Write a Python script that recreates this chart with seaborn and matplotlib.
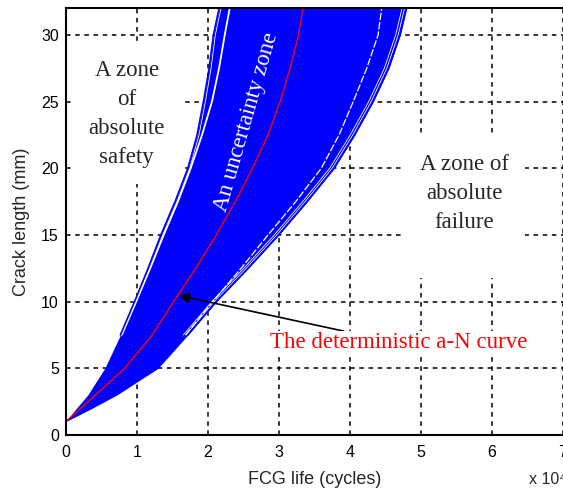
import numpy as np
import pandas as pd
import matplotlib
matplotlib.use("Agg")
import matplotlib.pyplot as plt
import matplotlib.patheffects as pe
import seaborn as sns

# ---- data (FCG life in units of 1e4 cycles, crack length in mm) ----
crack_mm = [1, 2, 3, 5, 7.5, 10, 12.5, 15, 17.5, 20, 22.5, 25, 27.5, 30, 32]
life_fast_main = [0, 0.15, 0.31, 0.55, 0.78, 0.99, 1.19, 1.38, 1.58, 1.76, 1.92, 2.06, 2.16, 2.24, 2.31]
life_fast_outer = [0, 0.15, 0.31, 0.55, 0.77, 0.97, 1.16, 1.34, 1.54, 1.72, 1.85, 1.94, 2.02, 2.08, 2.16]
life_slow_main = [0, 0.37, 0.72, 1.28, 1.69, 2.07, 2.47, 2.85, 3.24, 3.60, 3.85, 4.05, 4.24, 4.40, 4.45]
life_slow_outer = [0, 0.37, 0.72, 1.30, 1.72, 2.12, 2.57, 3.00, 3.40, 3.78, 4.07, 4.33, 4.55, 4.71, 4.80]
life_deterministic = [0, 0.21, 0.42, 0.83, 1.22, 1.52, 1.83, 2.12, 2.39, 2.63, 2.85, 3.02, 3.16, 3.28, 3.34]

x_ticks = [0, 1, 2, 3, 4, 5, 6, 7]
y_ticks = [0, 5, 10, 15, 20, 25, 30]

sns.set_style("white")
plt.rcParams["font.family"] = ["Liberation Sans", "DejaVu Sans"]

fig = plt.figure(figsize=(5.63, 4.91), dpi=100)
ax = fig.add_axes([65.7 / 563, (491 - 435) / 491, 497 / 563, (435 - 8.3) / 491])

df = pd.DataFrame({
    "crack": crack_mm,
    "fast_main": life_fast_main,
    "fast_outer": life_fast_outer,
    "slow_main": life_slow_main,
    "slow_outer": life_slow_outer,
    "det": life_deterministic,
})
upper = df[df["crack"] >= 7.5]

BLUE = "#0000ff"
# whole uncertainty band (all simulated curves)
ax.fill_betweenx(df["crack"], df["fast_outer"], df["slow_outer"], color=BLUE,
                 linewidth=0, zorder=3)

# gaps between the bulk of the curves and the outlying ones
sns.lineplot(data=upper, x="fast_main", y="crack", sort=False, estimator=None,
             ax=ax, color="white", linewidth=1.3, zorder=4)
sns.lineplot(data=upper, x="slow_main", y="crack", sort=False, estimator=None,
             ax=ax, color="white", linewidth=0.9, linestyle=(0, (6, 1.5)), zorder=4)

# outlying curves drawn as thin bundles
sns.lineplot(data=upper, x="fast_outer", y="crack", sort=False, estimator=None,
             ax=ax, color=BLUE, linewidth=1.2, zorder=4,
             path_effects=[pe.Stroke(linewidth=0.6, foreground="white", offset=(1.4, 0)),
                           pe.Normal()])
sns.lineplot(data=upper, x="slow_outer", y="crack", sort=False, estimator=None,
             ax=ax, color=BLUE, linewidth=1.2, zorder=4,
             path_effects=[pe.Stroke(linewidth=0.6, foreground="white", offset=(-1.4, 0)),
                           pe.Stroke(linewidth=0.6, foreground="white", offset=(-3.2, 0)),
                           pe.Normal()])

# deterministic curve
sns.lineplot(data=df, x="det", y="crack", sort=False, estimator=None, ax=ax,
             color="#ff0000", linewidth=1.0, zorder=5)

ax.set_xlim(0, 7)
ax.set_ylim(0, 32)
ax.set_xticks(x_ticks)
ax.set_yticks(y_ticks)
ax.set_xticklabels([str(t) for t in x_ticks])
ax.set_yticklabels([str(t) for t in y_ticks])
ax.tick_params(axis="both", labelsize=11.5, direction="in", length=3, width=1,
               colors="black")
ax.tick_params(axis="x", pad=7)
ax.tick_params(axis="y", pad=5)

ax.grid(True, color="black", linestyle=(0, (3, 3)), linewidth=1.1)
ax.set_axisbelow(True)

for side in ["left", "bottom", "top"]:
    ax.spines[side].set_color("black")
    ax.spines[side].set_linewidth(1.5)
    ax.spines[side].set_zorder(6)
ax.spines["right"].set_visible(False)

ax.set_xlabel("FCG life (cycles)", fontsize=13, labelpad=8)
ax.set_ylabel("Crack length (mm)", fontsize=13, labelpad=8)

serif = ["Liberation Serif", "DejaVu Serif"]
ax.text(0.86, 24.1, "A zone\nof\nabsolute\nsafety", family=serif, fontsize=16.5,
        ha="center", va="center", linespacing=1.5, zorder=2,
        bbox=dict(facecolor="white", edgecolor="none", pad=12))
ax.text(5.61, 21.1, "A zone of\nabsolute\nfailure\n", family=serif, fontsize=16.5,
        ha="center", va="top", linespacing=1.5, zorder=2,
        bbox=dict(facecolor="white", edgecolor="none", pad=12))
ax.text(2.55, 23.5, "An uncertainty zone", family=serif, fontsize=16.5,
        color="white", ha="center", va="center", rotation=74,
        rotation_mode="anchor", zorder=7)
ax.annotate("The deterministic a-N curve", xy=(1.59, 10.46), xytext=(2.88, 6.9),
            family=serif, fontsize=16.5, color="#ff0000", ha="left", va="center",
            zorder=7,
            bbox=dict(facecolor="white", edgecolor="none", pad=1),
            arrowprops=dict(arrowstyle="-|>", color="black", lw=1.2,
                            mutation_scale=16, shrinkA=0, shrinkB=0))

fig.text(529 / 563, (491 - 480) / 491, "x 10\u2074", fontsize=11.5,
         ha="left", va="center")

fig.savefig("out.png", dpi=100)
